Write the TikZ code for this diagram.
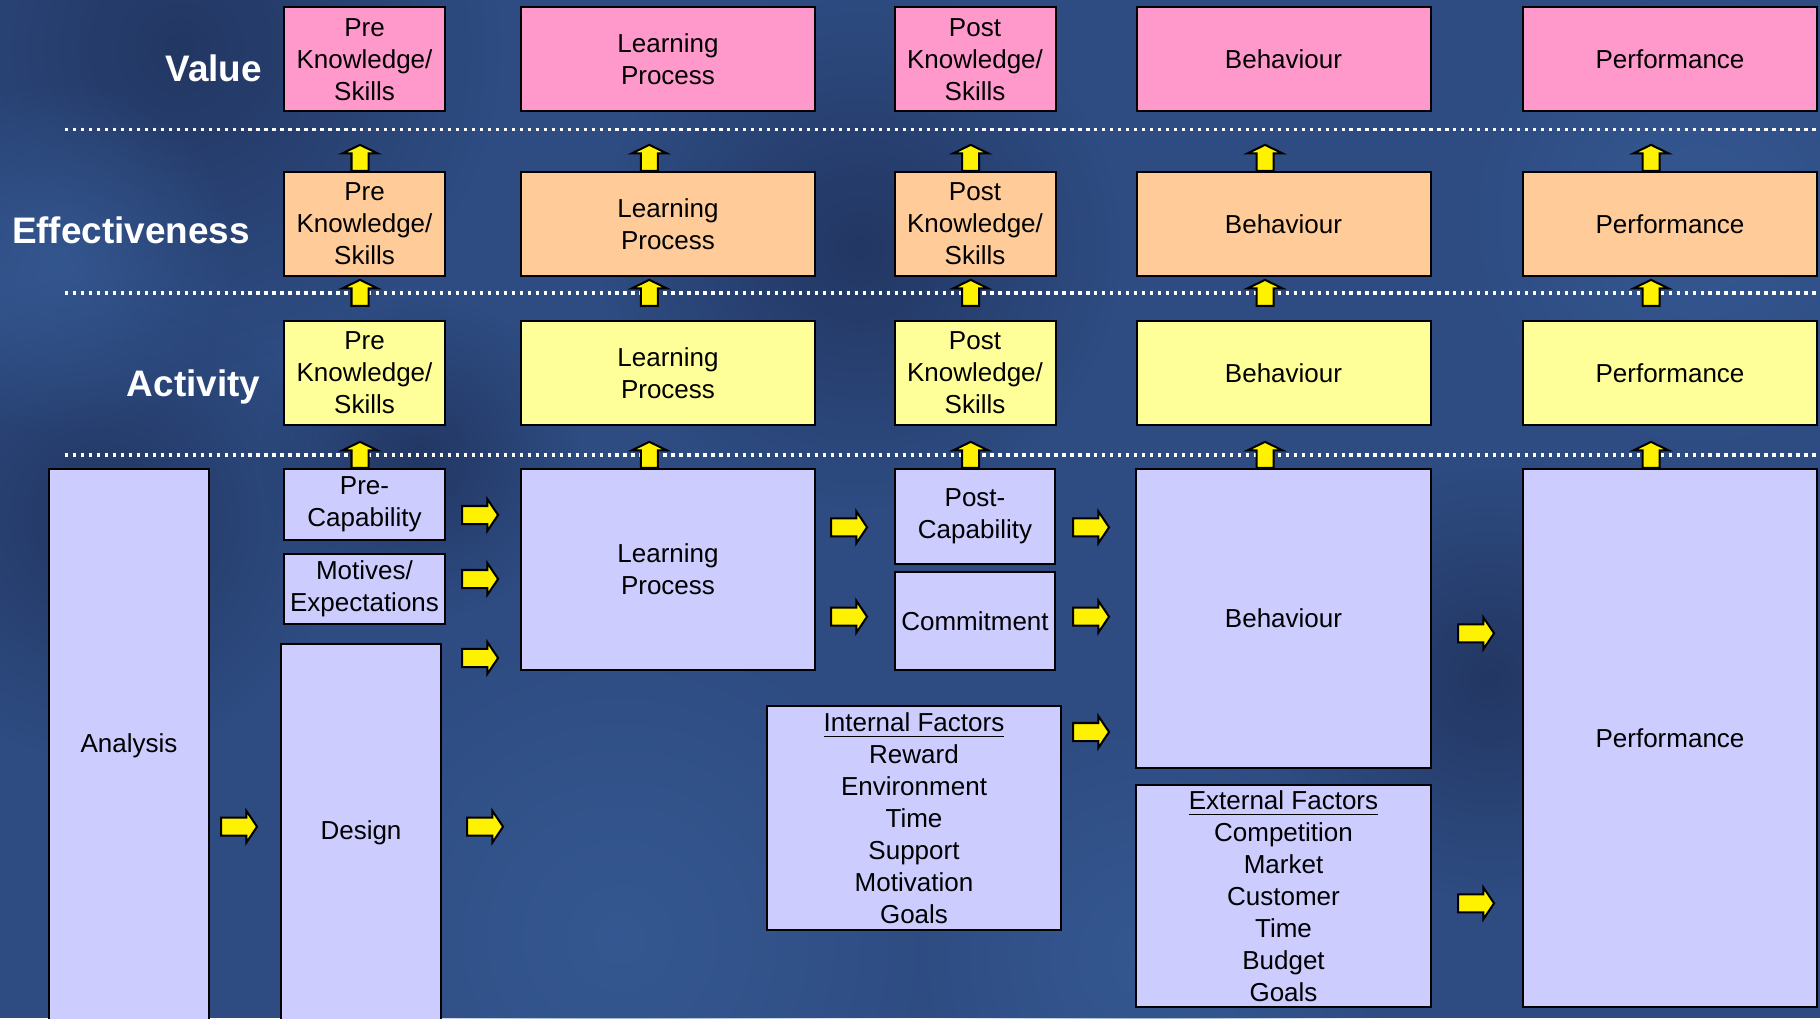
\documentclass[tikz,border=0pt]{standalone}
\usepackage{fontspec}
\setmainfont{Liberation Sans}
\usetikzlibrary{shapes.arrows, positioning, fadings}
\definecolor{cBack}{RGB}{46,76,130}
\definecolor{cBackDark}{RGB}{30,46,86}
\definecolor{cBackLight}{RGB}{58,96,156}
\definecolor{cPink}{RGB}{255,153,204}
\definecolor{cPeach}{RGB}{255,204,153}
\definecolor{cLemon}{RGB}{255,255,153}
\definecolor{cLilac}{RGB}{204,204,255}
\tikzfading[name=blob, inner color=transparent!0, outer color=transparent!100]
\tikzset{
	box/.style     ={rectangle, draw=black, line width=0.57pt, align=center, inner sep=1pt, font=\fontsize{7.4}{9.1}\selectfont},
	narrow/.style  ={box, minimum width=1.61cm, minimum height=1.04cm},
	wide/.style    ={box, minimum width=2.94cm, minimum height=1.04cm},
	lilac/.style   ={box, fill=cLilac},
	rowlabel/.style={anchor=base east, text=white, inner sep=0pt, font=\bfseries\fontsize{10.5}{12.6}\selectfont},
	divider/.style ={white, line width=0.94pt, dash pattern=on 0.94pt off 1.33pt},
	% yellow block arrows
	blockarr/.style={single arrow, draw=black, fill=yellow, line width=0.57pt, inner xsep=0pt, minimum width=0pt, minimum height=0pt, anchor=tail},
	rarrow/.style  ={blockarr, inner ysep=0.08cm, single arrow head extend=0.07cm, single arrow tip angle=112},
	uarrow/.style  ={blockarr, inner ysep=0.075cm, single arrow head extend=0.09cm, single arrow tip angle=128, rotate=90},
}
\newcommand{\rshaft}{\rule{0.28cm}{0pt}}
\newcommand{\ushaft}{\rule{0.20cm}{0pt}}
\begin{document}
\begin{tikzpicture}
	\useasboundingbox (0,0) rectangle (18.2,10.18);
	% background
	\fill[cBack] (0,0) rectangle (18.2,10.18);
	\foreach \x/\y/\r in {1.8/9.7/3.2, 1.0/5.0/2.4, 8.6/7.7/2.6, 14.9/3.4/2.2, 4.2/5.6/1.6} {
		\fill[cBackDark, path fading=blob, fill opacity=0.7] (\x,\y) circle (\r);
	}
	\foreach \x/\y/\r in {6.2/0.8/3.2, 0.6/7.6/1.8, 11.5/0.6/2.4, 17.0/8.0/2.4} {
		\fill[cBackLight, path fading=blob, fill opacity=0.6] (\x,\y) circle (\r);
	}
	% row dividers
	\foreach \y in {8.887, 7.25, 5.63}
		\draw[divider] (0.65,\y) -- (18.2,\y);
	% row labels
	\node[rowlabel] (lval) at (2.627,9.363) {Value};
	\node[rowlabel] (leff) at (2.507,7.747) {Effectiveness};
	\node[rowlabel] (lact) at (2.61,6.21)   {Activity};
	% top three rows
	\foreach \r/\y/\c in {val/9.585/cPink, eff/7.94/cPeach, act/6.45/cLemon} {
		\node[narrow, fill=\c] (\r1) at (3.645,\y)  {Pre\\Knowledge/\\Skills};
		\node[wide,   fill=\c] (\r2) at (6.68,\y)   {Learning\\Process};
		\node[narrow, fill=\c] (\r3) at (9.75,\y)   {Post\\Knowledge/\\Skills};
		\node[wide,   fill=\c] (\r4) at (12.835,\y) {Behaviour};
		\node[wide,   fill=\c] (\r5) at (16.70,\y)  {Performance};
	}
	% bottom row
	\node[lilac, minimum width=1.60cm, minimum height=5.54cm] (analysis) at (1.29,2.72)  {Analysis};
	\node[lilac, minimum width=1.61cm, minimum height=0.71cm] (precap)   at (3.645,5.135) {Pre-\\Capability};
	\node[lilac, minimum width=1.61cm, minimum height=0.70cm] (motives)  at (3.645,4.29)  {Motives/\\Expectations};
	\node[lilac, minimum width=1.60cm, minimum height=3.78cm] (design)   at (3.61,1.85)   {Design};
	\node[lilac, minimum width=2.94cm, minimum height=2.01cm] (learn)    at (6.68,4.485)  {Learning\\Process};
	\node[lilac, minimum width=1.60cm, minimum height=0.95cm] (postcap)  at (9.75,5.015)  {Post-\\Capability};
	\node[lilac, minimum width=1.60cm, minimum height=0.98cm] (commit)   at (9.75,3.97)   {Commitment};
	\node[lilac, minimum width=2.94cm, minimum height=2.24cm] (internal) at (9.14,2.0)
		{\underline{Internal Factors}\\Reward\\Environment\\Time\\Support\\Motivation\\Goals};
	\node[lilac, minimum width=2.95cm, minimum height=2.99cm] (behav)    at (12.835,3.995) {Behaviour};
	\node[lilac, minimum width=2.95cm, minimum height=2.22cm] (external) at (12.835,1.22)  
		{\underline{External Factors}\\Competition\\Market\\Customer\\Time\\Budget\\Goals};
	\node[lilac, minimum width=2.94cm, minimum height=5.38cm] (perf)     at (16.70,2.80)  {Performance};
	% upward arrows between rows
	\foreach \x [count=\i] in {3.60, 6.493, 9.707, 12.65, 16.51} {
		\node[uarrow] (upA\i) at (\x,8.46) {\ushaft};
		\node[uarrow] (upB\i) at (\x,7.11) {\ushaft};
		\node[uarrow] (upC\i) at (\x,5.49) {\ushaft};
	}
	% arrows along the bottom row
	\node[rarrow] (toDesign)  at (2.20,1.913)  {\rshaft};
	\node[rarrow] (fromPre)   at (4.61,5.03)   {\rshaft};
	\node[rarrow] (fromMot)   at (4.61,4.39)   {\rshaft};
	\node[rarrow] (fromDesA)  at (4.61,3.60)   {\rshaft};
	\node[rarrow] (fromDesB)  at (4.66,1.913)  {\rshaft};
	\node[rarrow] (toPost)    at (8.30,4.907)  {\rshaft};
	\node[rarrow] (toCommit)  at (8.30,4.013)  {\rshaft};
	\node[rarrow] (fromPost)  at (10.72,4.907) {\rshaft};
	\node[rarrow] (fromComm)  at (10.72,4.013) {\rshaft};
	\node[rarrow] (fromInt)   at (10.72,2.86)  {\rshaft};
	\node[rarrow] (fromBehav) at (14.57,3.847) {\rshaft};
	\node[rarrow] (fromExt)   at (14.57,1.147) {\rshaft};
\end{tikzpicture}
\end{document}
